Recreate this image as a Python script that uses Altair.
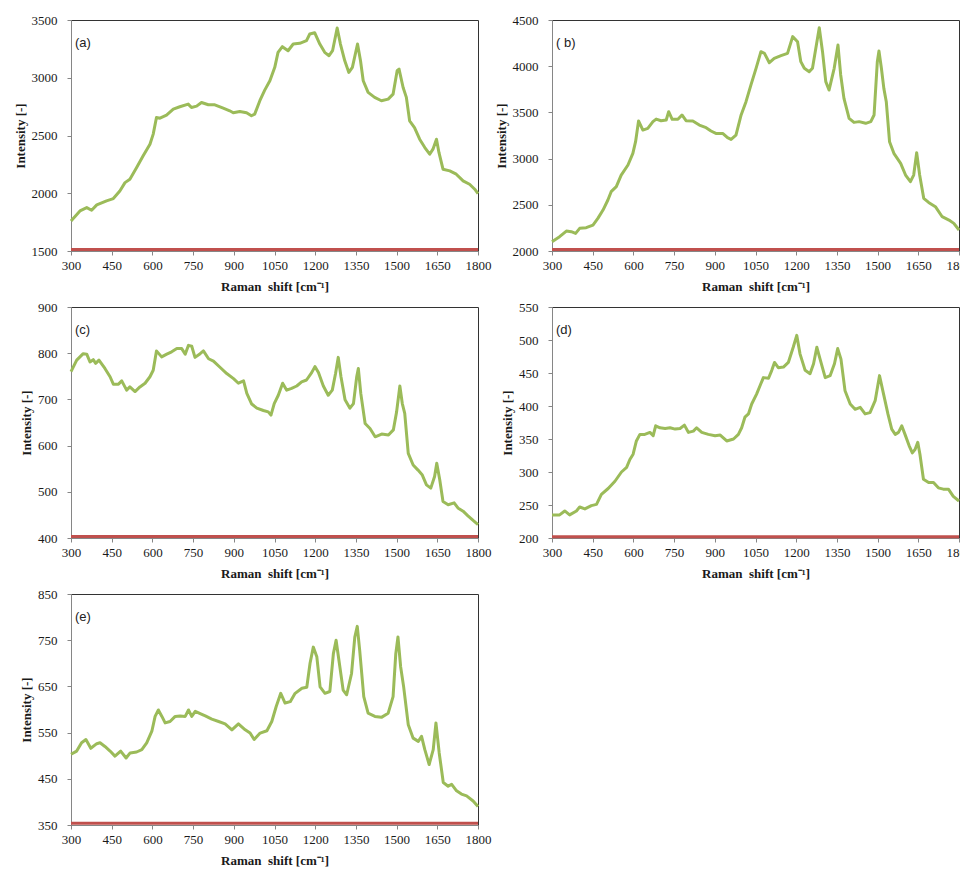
import altair as alt
import pandas as pd

# ---------------- data ----------------
x_ticks = [300, 450, 600, 750, 900, 1050, 1200, 1350, 1500, 1650, 1800]
baseline_shift = [300, 1800]

# (a)
a_shift = [300, 333, 358, 376, 395, 431, 456, 480, 499, 517, 542, 566, 591, 603, 615, 628, 652, 677,
           701, 732, 744, 763, 781, 806, 830, 861, 885, 898, 922, 947, 965, 977, 996, 1014, 1033,
           1051, 1063, 1079, 1100, 1119, 1143, 1168, 1180, 1198, 1217, 1235, 1251, 1264, 1281,
           1293, 1309, 1324, 1337, 1356, 1367, 1377, 1395, 1419, 1444, 1469, 1487, 1502, 1509,
           1524, 1536, 1548, 1566, 1585, 1604, 1622, 1634, 1647, 1656, 1671, 1696, 1720, 1745,
           1769, 1788, 1800]
a_intensity = [1760, 1847, 1876, 1853, 1899, 1934, 1954, 2020, 2092, 2121, 2223, 2324, 2425, 2512,
               2656, 2650, 2676, 2728, 2749, 2772, 2743, 2754, 2786, 2766, 2766, 2737, 2714, 2697,
               2708, 2697, 2671, 2685, 2801, 2893, 2974, 3090, 3220, 3269, 3234, 3292, 3298, 3321,
               3379, 3390, 3292, 3220, 3191, 3234, 3431, 3292, 3147, 3046, 3090, 3292, 3147, 2974,
               2873, 2830, 2801, 2815, 2858, 3061, 3075, 2916, 2830, 2627, 2569, 2468, 2396, 2338,
               2382, 2468, 2353, 2208, 2194, 2165, 2107, 2078, 2035, 1997]
a_ticks = [1500, 2000, 2500, 3000, 3500]
a_baseline = [1512, 1512]

# (b)
b_shift = [300, 328, 353, 371, 387, 402, 426, 451, 469, 488, 506, 518, 537, 555, 580, 598, 608, 619,
           635, 653, 672, 684, 702, 721, 730, 743, 764, 779, 794, 819, 843, 868, 886, 904, 929,
           947, 960, 978, 997, 1015, 1033, 1052, 1070, 1083, 1101, 1119, 1144, 1168, 1187, 1205,
           1217, 1230, 1248, 1260, 1285, 1297, 1309, 1321, 1340, 1354, 1364, 1376, 1395, 1413,
           1432, 1456, 1475, 1487, 1499, 1505, 1514, 1523, 1532, 1544, 1560, 1585, 1603, 1621,
           1633, 1644, 1655, 1670, 1688, 1713, 1738, 1763, 1781, 1800]
b_intensity = [2101, 2155, 2216, 2209, 2191, 2245, 2252, 2281, 2353, 2443, 2552, 2642, 2696, 2822,
               2931, 3057, 3183, 3407, 3309, 3327, 3400, 3428, 3410, 3418, 3508, 3425, 3425, 3472,
               3410, 3407, 3363, 3335, 3299, 3273, 3273, 3226, 3208, 3255, 3472, 3616, 3796, 3977,
               4157, 4139, 4038, 4085, 4114, 4139, 4320, 4265, 4049, 3977, 3941, 3977, 4417, 4157,
               3833, 3742, 3977, 4229, 3905, 3652, 3436, 3392, 3400, 3382, 3400, 3472, 4049, 4164,
               3977, 3760, 3616, 3183, 3057, 2949, 2822, 2750, 2822, 3064, 2822, 2570, 2526, 2480,
               2371, 2335, 2299, 2227]
b_ticks = [2000, 2500, 3000, 3500, 4000, 4500]
b_baseline = [2015, 2015]

# (c)
c_shift = [300, 321, 345, 358, 370, 382, 391, 403, 425, 444, 456, 475, 487, 505, 517, 536, 554, 573,
           591, 603, 615, 634, 653, 671, 690, 708, 721, 733, 745, 757, 776, 788, 807, 825, 850,
           874, 899, 917, 936, 948, 966, 985, 1009, 1027, 1037, 1049, 1064, 1080, 1095, 1113,
           1132, 1150, 1168, 1187, 1199, 1212, 1230, 1248, 1263, 1275, 1285, 1295, 1310, 1328,
           1341, 1353, 1359, 1368, 1384, 1402, 1421, 1445, 1470, 1488, 1500, 1512, 1521, 1530,
           1543, 1561, 1579, 1594, 1610, 1626, 1640, 1648, 1659, 1671, 1690, 1712, 1726, 1745,
           1763, 1782, 1800]
c_intensity = [760, 785, 799, 798, 781, 786, 778, 785, 767, 749, 733, 733, 740, 720, 727, 717, 727,
               735, 749, 763, 805, 792, 798, 803, 810, 810, 798, 817, 815, 791, 799, 805, 788, 783,
               769, 756, 745, 735, 740, 713, 690, 681, 676, 673, 666, 691, 709, 735, 720, 724, 729,
               738, 742, 758, 771, 758, 729, 709, 720, 756, 791, 749, 699, 681, 691, 749, 767, 713,
               648, 637, 619, 625, 623, 634, 673, 729, 691, 670, 583, 558, 547, 537, 515, 508, 533,
               562, 526, 479, 472, 476, 465, 458, 448, 438, 429]
c_ticks = [400, 500, 600, 700, 800, 900]
c_baseline = [403, 403]

# (d)
d_shift = [300, 328, 347, 365, 390, 402, 421, 445, 464, 482, 507, 532, 556, 575, 587, 599, 611, 624,
           642, 661, 673, 682, 698, 717, 735, 754, 772, 788, 803, 821, 833, 852, 876, 901, 920,
           944, 969, 987, 999, 1011, 1024, 1036, 1054, 1067, 1079, 1098, 1110, 1120, 1134, 1153,
           1171, 1189, 1202, 1214, 1233, 1251, 1264, 1276, 1288, 1307, 1325, 1341, 1353, 1365,
           1380, 1399, 1417, 1436, 1454, 1472, 1491, 1507, 1522, 1538, 1552, 1565, 1577, 1589,
           1601, 1616, 1628, 1638, 1648, 1656, 1669, 1688, 1706, 1724, 1742, 1761, 1779, 1800]
d_intensity = [235, 235, 241, 235, 241, 247, 244, 249, 251, 266, 275, 286, 300, 307, 319, 327, 347,
               357, 357, 360, 355, 370, 367, 366, 367, 365, 366, 371, 360, 362, 367, 360, 357, 355,
               356, 347, 350, 357, 367, 383, 388, 403, 418, 431, 443, 442, 454, 466, 458, 459, 466,
               489, 507, 479, 454, 449, 464, 489, 471, 443, 446, 464, 487, 471, 423, 403, 395, 398,
               388, 390, 408, 446, 418, 388, 365, 357, 360, 370, 357, 340, 329, 334, 345, 327, 289,
               284, 284, 276, 274, 274, 263, 256]
d_ticks = [200, 250, 300, 350, 400, 450, 500, 550]
d_baseline = [202, 202]

# (e)
e_shift = [300, 321, 339, 355, 373, 395, 407, 425, 444, 462, 483, 503, 518, 542, 561, 579, 598, 610,
           622, 635, 647, 665, 684, 702, 721, 733, 745, 758, 776, 795, 819, 844, 868, 893, 917,
           942, 960, 975, 997, 1022, 1040, 1056, 1073, 1089, 1108, 1126, 1151, 1169, 1181, 1193,
           1206, 1218, 1236, 1254, 1267, 1277, 1289, 1303, 1316, 1334, 1346, 1355, 1364, 1379,
           1395, 1420, 1444, 1469, 1487, 1497, 1505, 1515, 1526, 1543, 1561, 1580, 1592, 1604,
           1620, 1635, 1645, 1657, 1672, 1690, 1703, 1721, 1739, 1758, 1782, 1800]
e_intensity = [503, 510, 528, 535, 516, 526, 528, 520, 510, 499, 510, 495, 506, 508, 513, 528, 553,
               585, 599, 585, 571, 574, 585, 586, 585, 599, 585, 596, 591, 586, 579, 574, 569, 556,
               569, 556, 549, 535, 549, 554, 574, 606, 635, 614, 617, 635, 646, 648, 700, 735, 714,
               649, 635, 639, 721, 750, 700, 642, 632, 678, 757, 780, 728, 628, 592, 585, 583, 592,
               628, 721, 757, 692, 649, 567, 538, 531, 542, 513, 481, 513, 571, 506, 442, 434, 438,
               424, 417, 413, 402, 390]
e_ticks = [350, 450, 550, 650, 750, 850]
e_baseline = [354, 354]

# ---------------- styling ----------------
GREEN = "#9BBB59"
RED = "#C0504D"
AXIS_GRAY = "#868686"
W, H = 407, 231
X_TITLE = "Raman\u00a0\u00a0shift [cm\u207b\u00b9]"


def panel(shift, intensity, base, ticks, label):
    spec = pd.DataFrame({"shift": shift, "intensity": intensity})
    base_df = pd.DataFrame({"shift": baseline_shift, "intensity": base})
    lab = pd.DataFrame({"label": [label]})
    x = alt.X("shift:Q",
              scale=alt.Scale(domain=[300, 1800], nice=False, zero=False),
              axis=alt.Axis(values=x_ticks, title=X_TITLE, labelFlush=False,
                            labelOverlap=False, format="d"))
    y = alt.Y("intensity:Q",
              scale=alt.Scale(domain=[ticks[0], ticks[-1]], nice=False, zero=False),
              axis=alt.Axis(values=ticks, title="Intensity  [-]", format="d",
                            labelOverlap=False))
    red = alt.Chart(base_df).mark_line(color=RED, strokeWidth=3).encode(x=x, y=y)
    green = alt.Chart(spec).mark_line(color=GREEN, strokeWidth=3,
                                      strokeJoin="round").encode(x=x, y=y)
    txt = alt.Chart(lab).mark_text(align="left", baseline="middle", font="Liberation Sans",
                                   fontSize=13, color="#222222").encode(
        x=alt.value(4), y=alt.value(23), text="label:N")
    return alt.layer(red, green, txt).properties(width=W, height=H)


chart = alt.concat(
    panel(a_shift, a_intensity, a_baseline, a_ticks, "(a)"),
    panel(b_shift, b_intensity, b_baseline, b_ticks, "( b)"),
    panel(c_shift, c_intensity, c_baseline, c_ticks, "(c)"),
    panel(d_shift, d_intensity, d_baseline, d_ticks, "(d)"),
    panel(e_shift, e_intensity, e_baseline, e_ticks, "(e)"),
    columns=2,
    spacing=alt.RowColnumber(row=56, column=74),
    bounds="flush",
).properties(
    padding={"left": 5, "top": 5, "right": -13, "bottom": 0}
).configure_view(
    stroke="#333333", strokeWidth=1
).configure_axis(
    grid=False,
    domainColor=AXIS_GRAY,
    tickColor=AXIS_GRAY,
    tickSize=4,
    labelFont="Liberation Serif",
    labelFontSize=13,
    labelColor="#1a1a1a",
    titleFont="Liberation Serif",
    titleFontSize=13,
    titleFontWeight="bold",
    titleColor="#1a1a1a",
).configure_axisX(
    labelPadding=4,
    titlePadding=8,
).configure_axisY(
    labelPadding=10,
    titlePadding=4,
)

chart.save("out.html", embed_options={"renderer": "svg", "actions": False})
